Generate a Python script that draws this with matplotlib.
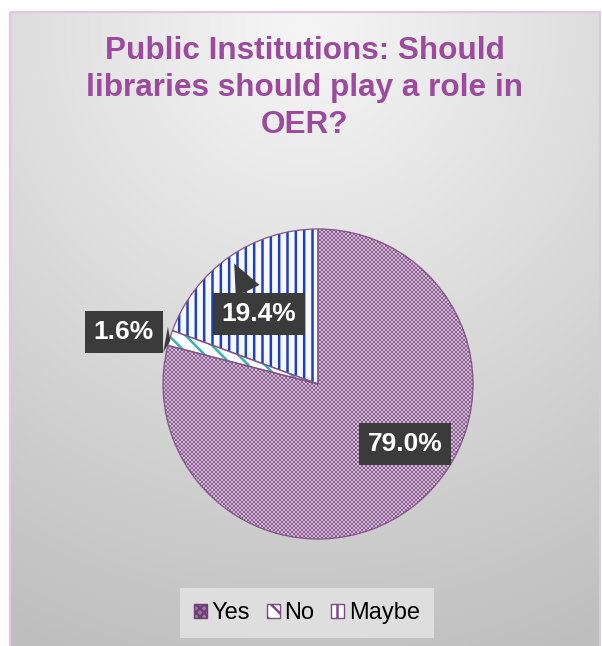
import numpy as np
import matplotlib
matplotlib.use("Agg")
import matplotlib.pyplot as plt
from matplotlib.patches import Patch, Rectangle

plt.rcParams["font.family"] = ["Liberation Sans", "DejaVu Sans"]
plt.rcParams["hatch.linewidth"] = 1.8

# Survey answers
categories = ["Yes", "No", "Maybe"]
shares = [79.0, 1.6, 19.4]
title = "Public Institutions: Should\nlibraries should play a role in\nOER?"

W, H = 602, 646
fig = plt.figure(figsize=(W / 100, H / 100), dpi=100)

# ---- background panel with soft gradient ----
bg = fig.add_axes([0, 0, 1, 1])
bg.set_xlim(0, W)
bg.set_ylim(H, 0)
bg.axis("off")
yy, xx = np.mgrid[0:H, 0:W]
d = np.hypot(xx - 305, (yy - 30) * 1.0)
val = np.clip(246 - 50 * (d / 600.0), 190, 246) / 255.0
img = np.ones((H, W, 3))
inside = (xx >= 10) & (xx <= 600) & (yy >= 12)
for c in range(3):
    img[..., c] = np.where(inside, val, 1.0)
bg.imshow(img, extent=(0, W, H, 0), interpolation="bilinear", zorder=0)
bg.add_patch(Rectangle((10, 12), 590, 640, fill=False, ec="#e2c4e4", lw=1.6, zorder=1))

# ---- pie ----
cx, cy, r = 318, 384, 155
ax = fig.add_axes([(cx - r) / W, (H - cy - r) / H, 2 * r / W, 2 * r / H])

fills = ["#c8a9cc", "#ffffff", "#f5f8ff"]
hatch_cols = ["#c8a9cc", "#35b3b3", "#2140b8"]
hatches = [None, "\\\\", "||"]

wedges, _ = ax.pie(shares, startangle=90, counterclock=False, radius=1,
                   colors=fills, wedgeprops=dict(linewidth=0))
for w, hc, h in zip(wedges, hatch_cols, hatches):
    w.set_edgecolor(hc)
    if h:
        w.set_hatch(h)

# checkered fill for the "Yes" slice
n = 155
checker = (np.add.outer(np.arange(n), np.arange(n)) % 2).astype(float)
light = np.array(matplotlib.colors.to_rgb("#d3b8d7"))
dark = np.array(matplotlib.colors.to_rgb("#87608e"))
tex = light[None, None, :] * (1 - checker[..., None]) + dark[None, None, :] * checker[..., None]
im = ax.imshow(tex, extent=(-1, 1, -1, 1), interpolation="nearest", zorder=2)
im.set_clip_path(wedges[0])

# slice outlines
outline, _ = ax.pie(shares, startangle=90, counterclock=False, radius=1,
                    wedgeprops=dict(fill=False, edgecolor="#84528a", linewidth=0.9))
for w in outline:
    w.set_zorder(3)

ax.set_xlim(-1, 1)
ax.set_ylim(-1, 1)
ax.set_aspect("equal")
ax.axis("off")

# ---- data labels ----
box = dict(boxstyle="square,pad=0.33", fc="#3b3b3b", ec="none")
lab_kw = dict(color="white", fontsize=19, fontweight="bold", ha="center", va="center",
              zorder=5, annotation_clip=False)
arrow = dict(arrowstyle="wedge,tail_width=1.0,shrink_factor=0.5", fc="#3b3b3b", ec="none")

def px(x, y):
    return ((x - cx) / r, -(y - cy) / r)

labels = [f"{v:.1f}%" for v in shares]
ax.annotate(labels[0], xy=px(405, 444), xytext=px(405, 444), bbox=box, **lab_kw)
ax.annotate(labels[1], xy=px(173, 341), xytext=px(124, 332), bbox=box,
            arrowprops=arrow, **lab_kw)
ax.annotate(labels[2], xy=px(233, 261), xytext=px(259, 314), bbox=box,
            arrowprops=arrow, **lab_kw)

# ---- title ----
fig.text(305 / W, 1 - 88 / H, title, ha="center", va="center", fontsize=22.7,
         fontweight="bold", color="#9b4a9e", linespacing=1.3)

# ---- legend ----
handles = [
    Patch(facecolor="#9c7aa2", edgecolor="#6e3f76", hatch="xxxx", label=categories[0]),
    Patch(facecolor="white", edgecolor="#7a4a82", hatch="\\\\", label=categories[1]),
    Patch(facecolor="white", edgecolor="#7a4a82", hatch="||", label=categories[2]),
]
leg = fig.legend(handles=handles, loc="center", bbox_to_anchor=(307 / W, 1 - 613 / H),
                 ncol=3, fontsize=17, frameon=True, fancybox=False,
                 handlelength=0.55, handleheight=0.55, handletextpad=0.2,
                 columnspacing=0.7, borderpad=0.6)
leg.get_frame().set_facecolor("#dedede")
leg.get_frame().set_edgecolor("none")
leg.get_frame().set_alpha(1)

fig.savefig("out.png", dpi=100)
